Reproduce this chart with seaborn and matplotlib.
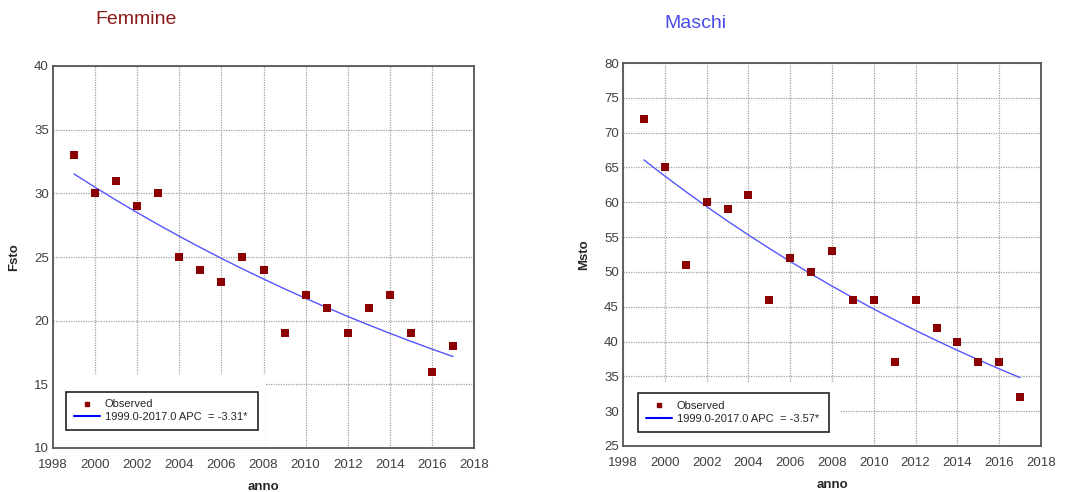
import numpy as np
import pandas as pd
import matplotlib
matplotlib.use("Agg")
import matplotlib.pyplot as plt
import seaborn as sns
from matplotlib.lines import Line2D
from matplotlib.patches import Rectangle

sns.set_theme(style="white")
plt.rcParams['font.family'] = ['Liberation Sans', 'DejaVu Sans']

years = list(range(1999, 2018))
femmine = [33, 30, 31, 29, 30, 25, 24, 23, 25, 24, 19, 22, 21, 19, 21, 22, 19, 16, 18]
maschi = [72, 65, 51, 60, 59, 61, 46, 52, 50, 53, 46, 46, 37, 46, 42, 40, 37, 37, 32]
apc_labels = ["1999.0-2017.0 APC  = -3.31*", "1999.0-2017.0 APC  = -3.57*"]
titles = ["Femmine", "Maschi"]

df = pd.DataFrame({'anno': years, 'Fsto': femmine, 'Msto': maschi})

# log-linear fit (constant annual percent change)
for col in ['Fsto', 'Msto']:
    b, a = np.polyfit(df['anno'], np.log(df[col]), 1)
    df[col + '_fit'] = np.exp(a + b * df['anno'])

fig = plt.figure(figsize=(10.65, 4.92), dpi=100)
ax1 = fig.add_axes([53/1065, 1 - 448/492, 421/1065, 382/492])
ax2 = fig.add_axes([623/1065, 1 - 446/492, 418/1065, 383/492])

panels = [
    (ax1, 'Fsto', (10, 40), titles[0], '#8B1A1A', apc_labels[0],
     (0.031, 0.047, 0.456, 0.105), (95, 20), (0.504, 0.191)),
    (ax2, 'Msto', (25, 80), titles[1], '#4B4BE6', apc_labels[1],
     (0.036, 0.037, 0.457, 0.109), (664, 24), (0.519, 0.164)),
]

for ax, col, ylim, title, tcolor, apc, lbox, tpos, gap in panels:
    ax.grid(True, color='#a0a0a0', linestyle=(0, (1, 1)), linewidth=0.9)
    ax.set_axisbelow(True)
    # blank patch behind the legend, as in the original output
    ax.add_patch(Rectangle((0, 0), gap[0], gap[1], transform=ax.transAxes,
                           facecolor='white', edgecolor='none', zorder=1))
    sns.lineplot(data=df, x='anno', y=col + '_fit', ax=ax, color='#5555ff', linewidth=1.0, zorder=3)
    sns.scatterplot(data=df, x='anno', y=col, ax=ax, marker='s', s=28, color='#8B0000',
                    edgecolor='#8B0000', linewidth=0, zorder=4)
    ax.set_xlim(1998, 2018)
    ax.set_ylim(*ylim)
    ax.set_xticks(range(1998, 2019, 2))
    ax.set_yticks(range(ylim[0], ylim[1] + 1, 5))
    ax.tick_params(axis='both', labelsize=9.5, colors='#404040', length=0)
    ax.tick_params(axis='x', pad=8)
    ax.tick_params(axis='y', pad=3)
    for s in ax.spines.values():
        s.set_color('#555555')
        s.set_linewidth(1.3)
    ax.set_xlabel('anno', fontsize=9.5, fontweight='bold', labelpad=7)
    ax.set_ylabel(col, fontsize=9.5, fontweight='bold', labelpad=10)

    handles = [
        Line2D([], [], marker='s', color='#8B0000', linestyle='none', markersize=3.5),
        Line2D([], [], color='#0000ff', linewidth=1.5),
    ]
    leg = ax.legend(handles, ['Observed', apc], loc='lower left',
                    bbox_to_anchor=lbox, mode='expand', fontsize=8,
                    frameon=True, fancybox=False, framealpha=1, edgecolor='#222222',
                    borderpad=0.7, labelspacing=0.25, handlelength=2.4, handletextpad=0.4,
                    borderaxespad=0)
    leg.get_frame().set_linewidth(1.2)
    leg.set_zorder(5)
    fig.text(tpos[0] / 1065, 1 - tpos[1] / 492, title, color=tcolor, fontsize=14,
             ha='left', va='center')

fig.savefig('out.png', dpi=100)
